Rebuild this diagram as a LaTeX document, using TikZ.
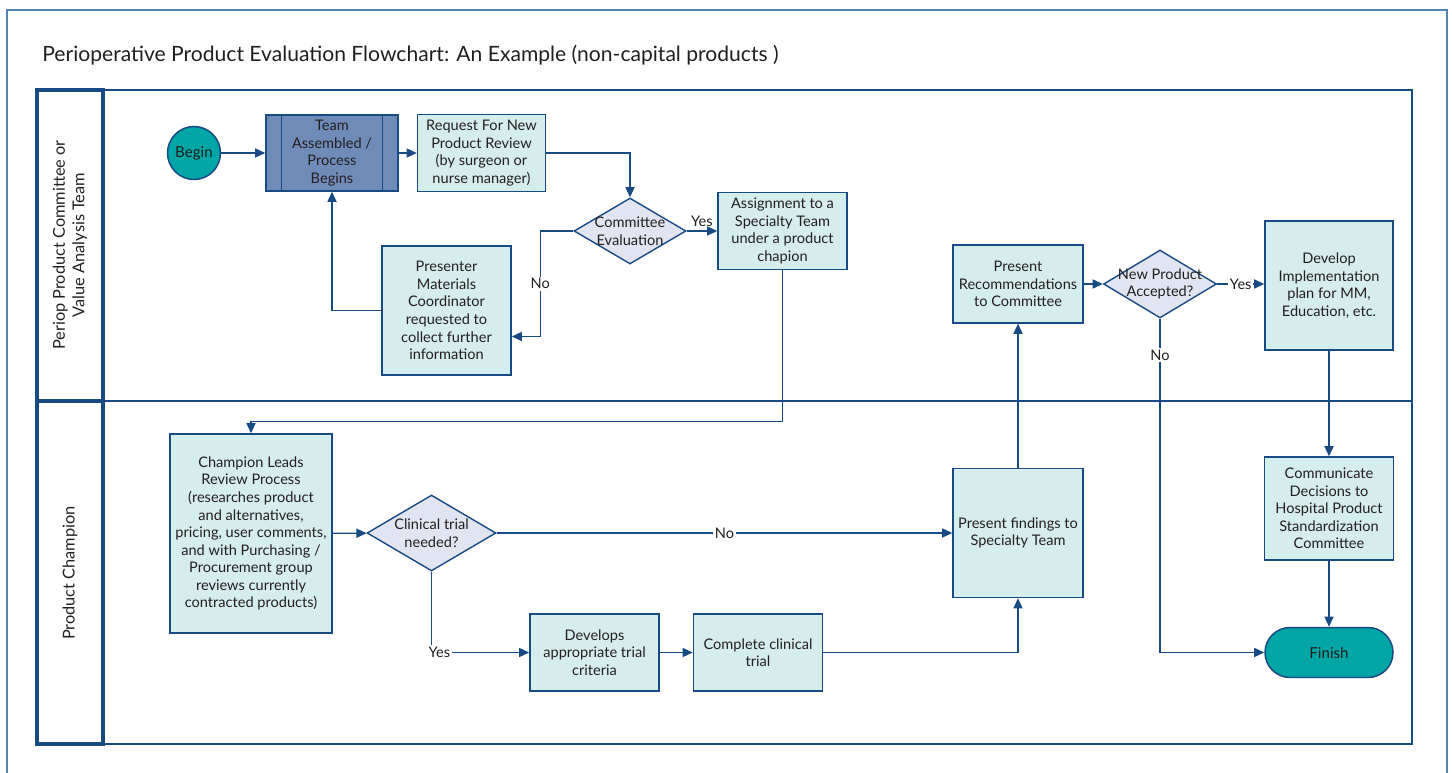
\documentclass[tikz,border=0pt]{standalone}
\usepackage{fontspec}
\setmainfont{Lato}
\usetikzlibrary{shapes.geometric, arrows.meta, positioning, calc}
\definecolor{laneblue}{RGB}{24,74,132}
\definecolor{frameblue}{RGB}{84,130,178}
\definecolor{boxfill}{RGB}{214,237,237}
\definecolor{teamfill}{RGB}{112,139,184}
\definecolor{decfill}{RGB}{225,229,241}
\definecolor{tealfill}{RGB}{0,166,166}
\definecolor{ink}{RGB}{35,31,32}
\tikzset{
  process/.style={rectangle, draw=laneblue, line width=0.85pt, fill=boxfill,
                  align=center, inner sep=1pt, text=ink,
                  font=\fontsize{8.3}{10}\selectfont},
  decision/.style={diamond, draw=laneblue, line width=0.8pt, fill=decfill,
                   aspect=1.7, inner sep=0pt, align=center, text=ink,
                   font=\fontsize{8.3}{10}\selectfont},
  terminal/.style={draw=laneblue, line width=0.85pt, fill=tealfill,
                   text=ink, font=\fontsize{8.6}{10}\selectfont},
  arrow/.style={-{Triangle[length=5.8pt, width=5.2pt]}, line width=0.75pt,
                color=laneblue},
  lbl/.style={fill=white, inner sep=1pt, text=ink,
              font=\fontsize{8.3}{10}\selectfont},
  lanetitle/.style={rotate=90, align=center, text=ink,
                    font=\fontsize{9.3}{11}\selectfont},
}
\begin{document}
\begin{tikzpicture}[x=0.02cm, y=-0.02cm]
  \useasboundingbox (0,0) rectangle (1452,773);

  % Frame and title
  \draw[frameblue, line width=1.1pt] (7,773) -- (7,10) -- (1447,10) -- (1447,773);
  \node[anchor=base west, inner sep=0pt, text=ink,
        font=\fontsize{12}{14}\selectfont] (title) at (42,62)
    {Perioperative Product Evaluation Flowchart: An Example (non-capital products )};

  % Swimlanes
  \draw[laneblue, line width=1pt] (103,90) rectangle (1412,744)
    (103,401) -- (1412,401);
  \draw[laneblue, line width=1.8pt] (37,90) rectangle (103,401)
    (37,401) rectangle (103,744);
  \node[lanetitle] (lanecommittee) at (70,245)
    {Periop Product Committee or\\Value Analysis Team};
  \node[lanetitle] (lanechampion) at (70,573) {Product Champion};

  % Committee lane
  \node[terminal, circle, minimum size=1.06cm, inner sep=0pt] (begin) at (194,153) {Begin};
  \node[process, fill=teamfill, minimum width=2.64cm, minimum height=1.52cm]
    (team) at (332,153) {Team\\Assembled /\\Process\\Begins};
  \draw[laneblue, line width=0.85pt]
    ($(team.north west)+(16,0)$) -- ($(team.south west)+(16,0)$)
    ($(team.north east)+(-16,0)$) -- ($(team.south east)+(-16,0)$);
  \node[process, minimum width=2.56cm, minimum height=1.54cm, right=0.36cm of team]
    (request) {Request For New\\Product Review\\(by surgeon or\\nurse manager)};
  \node[decision, minimum width=2.24cm, minimum height=1.32cm, inner xsep=-2.2pt]
    (commeval) at (630,231) {Committee\\Evaluation};
  \node[process, minimum width=2.58cm, minimum height=1.54cm]
    (assign) at (782.5,231) {Assignment to a\\Specialty Team\\under a product\\chapion};
  \node[process, minimum width=2.58cm, minimum height=2.58cm]
    (presenter) at (446.5,310.5) {Presenter\\Materials\\Coordinator\\requested to\\collect further\\information};
  \node[process, minimum width=2.6cm, minimum height=1.56cm]
    (presrec) at (1018,284) {Present\\Recommendations\\to Committee};
  \node[decision, minimum width=2.26cm, minimum height=1.36cm, inner xsep=-7pt]
    (newprod) at (1160,284) {New Product\\Accepted?};
  \node[process, minimum width=2.56cm, minimum height=2.58cm]
    (implement) at (1329,285.5) {Develop\\Implementation\\plan for MM,\\Education, etc.};

  % Champion lane
  \node[process, minimum width=3.24cm, minimum height=3.98cm]
    (champion) at (251,533.5) {Champion Leads\\Review Process\\(researches product\\and alternatives,\\pricing, user comments,\\and with Purchasing /\\Procurement group\\reviews currently\\contracted products)};
  \node[decision, minimum width=2.58cm, minimum height=1.52cm]
    (clinical) at (431.5,533) {Clinical trial\\needed?};
  \node[process, minimum width=2.6cm, minimum height=2.58cm]
    (findings) at (1018,533) {Present findings to\\Specialty Team};
  \node[process, minimum width=2.58cm, minimum height=1.54cm]
    (develops) at (594.5,652.5) {Develops\\appropriate trial\\criteria};
  \node[process, minimum width=2.58cm, minimum height=1.54cm, right=0.66cm of develops]
    (complete) {Complete clinical\\trial};
  \node[process, minimum width=2.58cm, minimum height=2.06cm]
    (communicate) at (1329,508.5) {Communicate\\Decisions to\\Hospital Product\\Standardization\\Committee};
  \node[terminal, rectangle, rounded corners=0.5cm, minimum width=2.56cm,
        minimum height=1cm] (finish) at (1329,652.5) {Finish};

  % Connectors
  \draw[arrow] (begin) -- (team);
  \draw[arrow] (team) -- (request);
  \draw[arrow] (request.east) -| (commeval.north);
  \draw[arrow] (commeval.east) -- node[above, text=ink, inner sep=2pt,
    font=\fontsize{8.3}{10}\selectfont]{Yes} (commeval.east -| assign.west);
  \coordinate (presin) at ($(presenter.east)+(0,26)$);
  \draw[arrow] (commeval.west) -- ++(-33,0) coordinate (nobend)
    -- node[lbl]{No} (nobend |- presin) -- (presin);
  \draw[arrow] (presenter.west) -| (team.south);
  \draw[arrow] (assign.south) -- ++(0,151) -| (champion.north);
  \draw[arrow] (champion) -- (clinical);
  \draw[arrow] (clinical.east) -- node[lbl]{No} (clinical.east -| findings.west);
  \draw[arrow] (clinical.south) |- node[pos=0.5, lbl, anchor=west, xshift=-3pt]{Yes}
    (develops.west);
  \draw[arrow] (develops) -- (complete);
  \draw[arrow] (complete.east) -| (findings.south);
  \draw[arrow] (findings.north) -- (presrec.south);
  \draw[arrow] (presrec.east) -- (presrec.east -| newprod.west);
  \draw[arrow] (newprod.east) -- node[lbl]{Yes} (newprod.east -| implement.west);
  \draw[arrow] (newprod.south) |- node[pos=0.055, lbl]{No} (finish.west);
  \draw[arrow] (implement) -- (communicate);
  \draw[arrow] (communicate) -- (finish);
\end{tikzpicture}
\end{document}
